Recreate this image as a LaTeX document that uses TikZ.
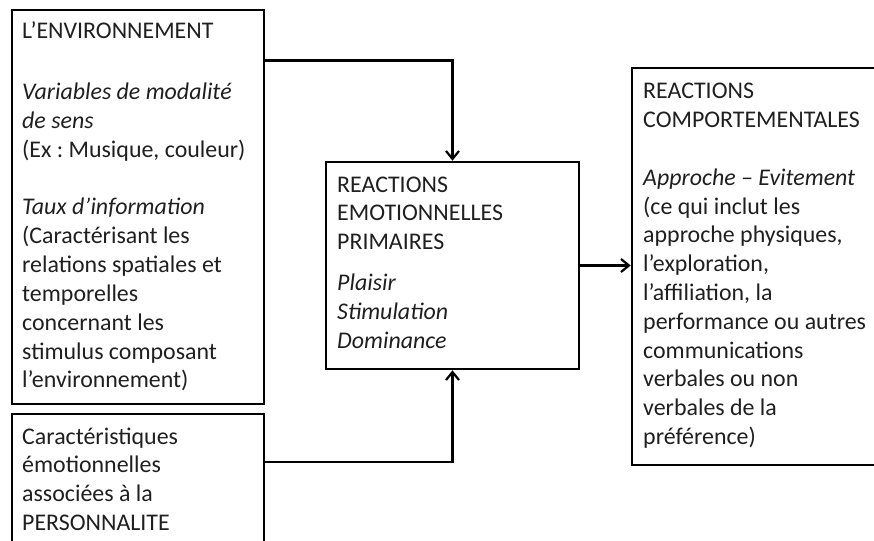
\documentclass[tikz,border=0pt]{standalone}
\usepackage{fontspec}
\setmainfont{Carlito}
\usetikzlibrary{arrows.meta}
\frenchspacing
% top-aligned block of lines, baseline at its first line
\newcommand\linesblock[1]{\parbox[t]{300pt}{\raggedright #1}}
\begin{document}
\begin{tikzpicture}[x=1pt,y=-1pt,
  box/.style={draw=black, line width=2.6pt, fill=none, inner sep=0pt},
  txt/.style={anchor=base west, inner sep=0pt, text=black!88,
    font=\fontsize{23.9pt}{28.8pt}\selectfont},
  link/.style={line width=2.4pt, -{Straight Barb[length=8pt,width=13pt,line width=2.2pt]}}]
  \useasboundingbox (0,0) rectangle (874,540);
  \clip (0,0) rectangle (874,540);

  % boxes
  \node[box, minimum width=252pt, minimum height=394pt] (env) at (138,207) {};
  \node[box, minimum width=252pt, minimum height=160pt] (pers) at (138,494) {};
  \node[box, minimum width=253pt, minimum height=207pt] (emo) at (452.5,265.5) {};
  \node[box, minimum width=268pt, minimum height=397pt] (comp) at (766,266.5) {};

  % texts
  \node[txt] (envtxt) at (22,39) {\linesblock{L’ENVIRONNEMENT\\[32pt]
    \textit{Variables de modalité}\\
    \textit{de sens}\\
    (Ex : Musique, couleur)\\[28.8pt]
    \textit{Taux d’information}\\
    (Caractérisant les\\
    relations spatiales et\\
    temporelles\\
    concernant les\\
    stimulus composant\\
    l’environnement)}};
  \node[txt] (perstxt) at (22,444) {\linesblock{Caractéristiques\\
    émotionnelles\\
    associées à la\\
    PERSONNALITE}};
  \node[txt] (emotxt) at (337,192) {\linesblock{REACTIONS\\
    EMOTIONNELLES\\
    PRIMAIRES\\[12pt]
    \textit{Plaisir}\\
    \textit{Stimulation}\\
    \textit{Dominance}}};
  \node[txt] (comptxt) at (643,99) {\linesblock{REACTIONS\\
    COMPORTEMENTALES\\[28.8pt]
    \textit{Approche – Evitement}\\
    (ce qui inclut les\\
    approche physiques,\\
    l’exploration,\\
    l’affiliation, la\\
    performance ou autres\\
    communications\\
    verbales ou non\\
    verbales de la\\
    préférence)}};

  % connectors
  \draw[link] ([yshift=-52pt]env.north east) -| (emo.north);
  \draw[link] ([yshift=-49pt]pers.north east) -| (emo.south);
  \draw[link] (emo.east) -- (emo.east -| comp.west);
\end{tikzpicture}
\end{document}
